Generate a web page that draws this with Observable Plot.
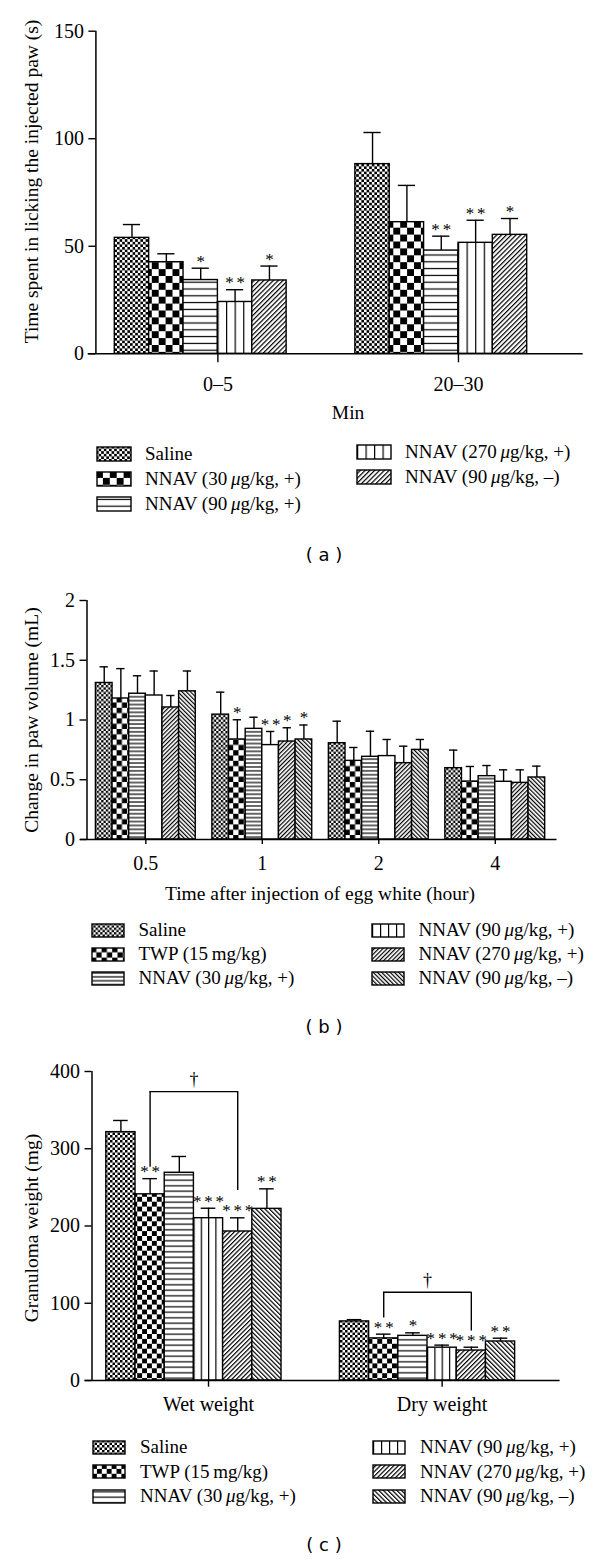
<!DOCTYPE html>
<html><head><meta charset="utf-8">
<script src="https://cdn.jsdelivr.net/npm/d3@7"></script>
<script src="https://cdn.jsdelivr.net/npm/@observablehq/plot@0.6"></script>
<style>
body{margin:0;background:#fff;}
#page{position:relative;width:600px;height:1559px;overflow:hidden;font-family:"Liberation Serif","Times New Roman",serif;color:#000;background:#fff}
.panel{position:absolute;left:0}
.item{position:absolute;display:flex;align-items:center;white-space:nowrap;height:22px;font-size:19px;line-height:22px}
.item svg{flex:none}
.cap{position:absolute;width:100px;text-align:center;font-family:"DejaVu Sans",sans-serif;font-size:18px;line-height:20px}
</style></head><body><div id="page"></div>
<script>
// ---------- Panel (a) data ----------
const groupsA = ["0–5", "20–30"];
const seriesA = ["Saline", "NNAV (30\u2009μg/kg, +)", "NNAV (90\u2009μg/kg, +)", "NNAV (270\u2009μg/kg, +)", "NNAV (90\u2009μg/kg, –)"];
const meanA = [[53.9, 42.6, 34.3, 24.1, 34.1], [88.2, 61.2, 48.0, 51.6, 55.3]];
const semA  = [[6.2, 3.9, 5.5, 5.7, 6.7], [14.7, 17.1, 6.7, 10.5, 7.6]];
const starsA = [["", "", "*", "**", "*"], ["", "", "**", "**", "*"]];
const yTicksA = [0, 50, 100, 150];

// ---------- Panel (b) data ----------
const groupsB = ["0.5", "1", "2", "4"];
const seriesB = ["Saline", "TWP (15\u2009mg/kg)", "NNAV (30\u2009μg/kg, +)", "NNAV (90\u2009μg/kg, +)", "NNAV (270\u2009μg/kg, +)", "NNAV (90\u2009μg/kg, –)"];
const meanB = [
  [1.31, 1.18, 1.22, 1.205, 1.105, 1.24],
  [1.045, 0.837, 0.926, 0.79, 0.82, 0.837],
  [0.806, 0.658, 0.692, 0.698, 0.639, 0.75],
  [0.597, 0.485, 0.53, 0.483, 0.474, 0.519]
];
const semB = [
  [0.135, 0.25, 0.15, 0.205, 0.1, 0.17],
  [0.188, 0.165, 0.097, 0.114, 0.115, 0.121],
  [0.184, 0.112, 0.214, 0.139, 0.142, 0.087],
  [0.151, 0.126, 0.089, 0.1, 0.109, 0.095]
];
const starsB = [["", "", "", "", "", ""], ["", "*", "", "**", "*", "*"], ["", "", "", "", "", ""], ["", "", "", "", "", ""]];
const yTicksB = [0, 0.5, 1, 1.5, 2];

// ---------- Panel (c) data ----------
const groupsC = ["Wet weight", "Dry weight"];
const seriesC = ["Saline", "TWP (15\u2009mg/kg)", "NNAV (30\u2009μg/kg, +)", "NNAV (90\u2009μg/kg, +)", "NNAV (270\u2009μg/kg, +)", "NNAV (90\u2009μg/kg, –)"];
const meanC = [[321.5, 241.0, 268.9, 210.1, 192.9, 222.2], [76.5, 54.5, 57.8, 42.5, 38.8, 50.5]];
const semC  = [[15.1, 20.3, 21.1, 12.9, 17.7, 25.9], [2.3, 5.5, 3.9, 3.3, 4.3, 4.3]];
const starsC = [["", "**", "", "***", "***", "**"], ["", "**", "*", "***", "***", "**"]];
const yTicksC = [0, 100, 200, 300, 400];
// significance brackets (TWP vs NNAV 270) per group
const bracketFromC = [1, 1];
const bracketToC = [4, 4];
const bracketTopC = [374, 114.3];
const bracketLeftEndC = [276, 81];
const bracketRightEndC = [246, 64];
const bracketLabelC = ["†", "†"];

// ---------- styles (pattern per series) ----------
const patA = ["fine", "coarse", "hline", "vline", "fwd"];
const patBC = ["fine", "coarse", "hline", "vline", "fwd", "back"];

function patternDefs(id, p) {
  const f = p.fine, c = p.coarse, h = p.hline, d = p.diag;
  const vline = (pid) => `<pattern id="${pid}" patternUnits="objectBoundingBox" width="0.25" height="1"><rect width="200" height="3000" fill="white"/><line x1="0.6" x2="0.6" y1="0" y2="3000" stroke="black" stroke-width="1.2"/></pattern>`;
  return `<defs>
  <pattern id="${id}-fine" width="${2*f}" height="${2*f}" patternUnits="userSpaceOnUse"><rect width="${2*f}" height="${2*f}" fill="white"/><rect width="${f}" height="${f}" fill="black"/><rect x="${f}" y="${f}" width="${f}" height="${f}" fill="black"/></pattern>
  <pattern id="${id}-coarse" width="${2*c}" height="${2*c}" patternUnits="userSpaceOnUse"><rect width="${2*c}" height="${2*c}" fill="white"/><rect width="${c}" height="${c}" fill="black"/><rect x="${c}" y="${c}" width="${c}" height="${c}" fill="black"/></pattern>
  <pattern id="${id}-hline" width="10" height="${h}" patternUnits="userSpaceOnUse"><rect width="10" height="${h}" fill="white"/><line x1="0" x2="10" y1="${h/2}" y2="${h/2}" stroke="black" stroke-width="1.2"/></pattern>
  ${p.vcols ? vline(id + "-vline") : `<pattern id="${id}-vline" width="10" height="10" patternUnits="userSpaceOnUse"><rect width="10" height="10" fill="white"/></pattern>`}
  ${vline(id + "-vleg")}
  <pattern id="${id}-fwd" width="${d}" height="${d}" patternUnits="userSpaceOnUse" patternTransform="rotate(45)"><rect width="${d}" height="${d}" fill="white"/><line x1="0.6" y1="0" x2="0.6" y2="${d}" stroke="black" stroke-width="1.2"/></pattern>
  <pattern id="${id}-back" width="${d}" height="${d}" patternUnits="userSpaceOnUse" patternTransform="rotate(-45)"><rect width="${d}" height="${d}" fill="white"/><line x1="0.6" y1="0" x2="0.6" y2="${d}" stroke="black" stroke-width="1.2"/></pattern>
  </defs>`;
}

const panels = [
  {id: "pa", top: 0, height: 430, marginLeft: 95.4, marginRight: 17.3, marginTop: 30.7, marginBottom: 76.7,
   xDomain: [-0.55, 13.63], yDomain: [0, 150], yTicks: yTicksA, stride: 7, tickOff: 3,
   xTickSize: 9, xTickPad: 13.5, xAxisExt: 7.7,
   groups: groupsA, series: seriesA, mean: meanA, sem: semA, stars: starsA, pat: patA,
   yTitle: "Time spent in licking the injected paw (s)", yTitleDx: -64.4, yTitleDy: -11,
   xTitle: "Min", xTitleDx: 8.5, xTitleDy: 58.7,
   pp: {fine: 2.6, coarse: 6.9, hline: 6.8, vcols: true, diag: 3.4}},
  {id: "pb", top: 570, height: 340, marginLeft: 86.5, marginRight: 43.5, marginTop: 30, marginBottom: 71,
   xDomain: [-0.535, 27.71], yDomain: [0, 2], yTicks: yTicksB, stride: 7, tickOff: 3,
   xTickSize: 5, xTickPad: 11.5, xAxisExt: 6.5,
   groups: groupsB, series: seriesB, mean: meanB, sem: semB, stars: starsB, pat: patBC,
   yTitle: "Change in paw volume (mL)", yTitleDx: -55.5, yTitleDy: 0,
   xTitle: "Time after injection of egg white (hour)", xTitleDx: -2, xTitleDy: 54,
   pp: {fine: 2.3, coarse: 5.3, hline: 3.9, vcols: false, diag: 3.0}},
  {id: "pc", top: 1040, height: 390, marginLeft: 91.5, marginRight: 40.4, marginTop: 31, marginBottom: 50,
   xDomain: [-0.49, 15.54], yDomain: [0, 400], yTicks: yTicksC, stride: 8, tickOff: 3.5,
   xTickSize: 6.7, xTickPad: 9.1, xAxisExt: 6.9,
   groups: groupsC, series: seriesC, mean: meanC, sem: semC, stars: starsC, pat: patBC,
   yTitle: "Granuloma weight (mg)", yTitleDx: -60.5, yTitleDy: 2,
   xTitle: null,
   brackets: {from: bracketFromC, to: bracketToC, top: bracketTopC, l: bracketLeftEndC, r: bracketRightEndC, label: bracketLabelC},
   pp: {fine: 2.5, coarse: 4.9, hline: 5.5, vcols: true, diag: 3.2}}
];

const page = document.getElementById("page");
const SW = 1.4;

for (const cfg of panels) {
  const rows = [];
  cfg.groups.forEach((g, gi) => cfg.series.forEach((s, si) => {
    rows.push({g, s, si, slot: gi * cfg.stride + si, mean: cfg.mean[gi][si],
      top: cfg.mean[gi][si] + cfg.sem[gi][si], star: cfg.stars[gi][si]});
  }));
  const marks = [];
  cfg.series.forEach((s, si) => {
    marks.push(Plot.rectY(rows.filter(d => d.si === si), {
      x1: "slot", x2: d => d.slot + 1, y1: 0, y2: "mean",
      fill: `url(#${cfg.id}-${cfg.pat[si]})`, stroke: "black", strokeWidth: SW}));
  });
  marks.push(Plot.ruleX(rows, {x: d => d.slot + 0.5, y1: "mean", y2: "top", stroke: "black", strokeWidth: SW}));
  marks.push(Plot.ruleY(rows, {y: "top", x1: d => d.slot + 0.25, x2: d => d.slot + 0.75, stroke: "black", strokeWidth: SW}));
  marks.push(Plot.text(rows.filter(d => d.star), {
    x: d => d.slot + 0.5, y: "top", text: d => d.star.split("").join("\u2006"),
    dy: -7, fontSize: 17, lineAnchor: "middle", fill: "black", stroke: "none"}));
  if (cfg.brackets) {
    const b = cfg.brackets;
    const br = cfg.groups.map((g, gi) => ({
      xa: gi * cfg.stride + b.from[gi] + 0.5, xb: gi * cfg.stride + b.to[gi] + 0.5,
      top: b.top[gi], l: b.l[gi], r: b.r[gi], label: b.label[gi]}));
    marks.push(Plot.ruleY(br, {y: "top", x1: "xa", x2: "xb", stroke: "black", strokeWidth: SW}));
    marks.push(Plot.ruleX(br, {x: "xa", y1: "l", y2: "top", stroke: "black", strokeWidth: SW}));
    marks.push(Plot.ruleX(br, {x: "xb", y1: "r", y2: "top", stroke: "black", strokeWidth: SW}));
    marks.push(Plot.text(br, {x: d => (d.xa + d.xb) / 2, y: "top", text: "label", dy: -12, fontSize: 18, lineAnchor: "middle", fill: "black"}));
  }
  // axis lines
  marks.push(Plot.ruleY([0], {stroke: "black", strokeWidth: 1.5, insetLeft: -cfg.xAxisExt}));
  marks.push(Plot.ruleX([cfg.xDomain[0]], {y1: cfg.yDomain[0], y2: cfg.yDomain[1], stroke: "black", strokeWidth: 1.5}));
  marks.push(Plot.axisY({ticks: cfg.yTicks, tickFormat: d => String(d), tickSize: 7, tickPadding: 5,
    label: null, fontSize: 20, stroke: "black", strokeWidth: 1.4, fill: "black"}));
  marks.push(Plot.axisX({ticks: cfg.groups.map((g, gi) => gi * cfg.stride + cfg.tickOff),
    tickFormat: v => cfg.groups[Math.round((v - cfg.tickOff) / cfg.stride)],
    tickSize: cfg.xTickSize, tickPadding: cfg.xTickPad, label: null, fontSize: 20,
    stroke: "black", strokeWidth: 1.4, fill: "black"}));
  // axis titles
  marks.push(Plot.text([cfg.yTitle], {text: d => d, frameAnchor: "left", textAnchor: "middle", rotate: -90,
    dx: cfg.yTitleDx, dy: cfg.yTitleDy, fontSize: 19.5, lineAnchor: "middle", fill: "black"}));
  if (cfg.xTitle) marks.push(Plot.text([cfg.xTitle], {text: d => d, frameAnchor: "bottom", textAnchor: "middle",
    dx: cfg.xTitleDx, dy: cfg.xTitleDy, fontSize: 19.5, lineAnchor: "middle", fill: "black"}));

  const svg = Plot.plot({
    width: 600, height: cfg.height,
    marginLeft: cfg.marginLeft, marginRight: cfg.marginRight, marginTop: cfg.marginTop, marginBottom: cfg.marginBottom,
    x: {type: "linear", domain: cfg.xDomain},
    y: {type: "linear", domain: cfg.yDomain},
    style: {fontFamily: "'Liberation Serif', 'Times New Roman', serif", fontSize: "19px", color: "black", background: "transparent", overflow: "visible"},
    marks
  });
  svg.insertAdjacentHTML("afterbegin", patternDefs(cfg.id, cfg.pp));
  const wrap = document.createElement("div");
  wrap.className = "panel";
  wrap.style.top = cfg.top + "px";
  wrap.appendChild(svg);
  page.appendChild(wrap);
}

// ---------- legends & captions ----------
const legends = [
  {id: "pa", series: seriesA, pat: patA, split: 3, colX: [96, 356], rows: [[454, 479, 504], [452, 477]], sw: 34, sh: 14, gap: 13},
  {id: "pb", series: seriesB, pat: patBC, split: 3, colX: [91, 371], rows: [[930, 954, 978], [930, 954, 978]], sw: 32, sh: 13, gap: 13.5},
  {id: "pc", series: seriesC, pat: patBC, split: 3, colX: [92, 372], rows: [[1447, 1471.5, 1496], [1447, 1471.5, 1496]], sw: 32, sh: 13, gap: 14}
];
for (const L of legends) {
  L.series.forEach((s, i) => {
    const col = i < L.split ? 0 : 1, r = col ? i - L.split : i;
    const key = L.pat[i] === "vline" ? "vleg" : L.pat[i];
    const item = document.createElement("div");
    item.className = "item";
    item.style.left = L.colX[col] + "px";
    item.style.top = (L.rows[col][r] - 11) + "px";
    item.innerHTML = `<svg width="${L.sw + 2}" height="${L.sh + 2}" style="margin-right:${L.gap}px"><rect x="1" y="1" width="${L.sw}" height="${L.sh}" fill="url(#${L.id}-${key})" stroke="black" stroke-width="1.4"/></svg><span>${s.replace("μ", "<i>μ</i>")}</span>`;
    page.appendChild(item);
  });
}
const captions = [["( a )", 555], ["( b )", 1027], ["( c )", 1545]];
for (const [t, y] of captions) {
  const c = document.createElement("div");
  c.className = "cap";
  c.style.left = "274px";
  c.style.top = (y - 10) + "px";
  c.textContent = t;
  page.appendChild(c);
}
</script>
</body></html>
